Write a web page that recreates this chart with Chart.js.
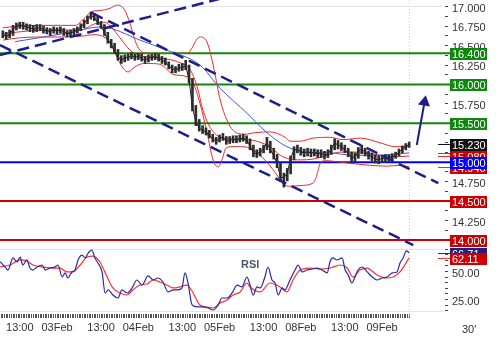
<!DOCTYPE html>
<html>
<head>
<meta charset="utf-8">
<script src="https://cdn.jsdelivr.net/npm/chart.js@4.4.0/dist/chart.umd.min.js"></script>
<style>
  html, body { margin: 0; padding: 0; background: #fff; }
</style>
</head>
<body>
<canvas id="fxChart" width="500" height="339"></canvas>
<script>
// time axis = trading hours counted from 02Feb 00:00 (weekend removed), one bar per hour
const firstBarHour = 8;
const lastBarHour = 128;
const timeAxisMin = 7.16;
const timeAxisMax = 138.0;
const levelEndHour = 140.1;

const timeTickHours = [13, 24, 37, 48, 61, 72, 85, 96, 109, 120];
const timeTickLabels = ['13:00', '03Feb', '13:00', '04Feb', '13:00', '05Feb', '13:00', '08Feb', '13:00', '09Feb'];

const priceMin = 13.884, priceMax = 17.086;
const rsiMin = 14.7, rsiMax = 70.1;

const closes = [
  16.64, 16.62, 16.64, 16.71, 16.75, 16.77, 16.75, 16.74, 16.73, 16.71,
  16.72, 16.73, 16.70, 16.69, 16.68, 16.70, 16.69, 16.70, 16.68, 16.65,
  16.66, 16.68, 16.70, 16.73, 16.79, 16.84, 16.89, 16.86, 16.80, 16.76,
  16.66, 16.57, 16.52, 16.44, 16.35, 16.31, 16.34, 16.35, 16.37, 16.35,
  16.36, 16.34, 16.31, 16.34, 16.35, 16.36, 16.34, 16.31, 16.29, 16.24,
  16.20, 16.19, 16.21, 16.22, 16.24, 16.06, 15.70, 15.52, 15.44, 15.41,
  15.39, 15.35, 15.30, 15.27, 15.31, 15.32, 15.27, 15.28, 15.29, 15.29,
  15.30, 15.31, 15.29, 15.21, 15.12, 15.11, 15.13, 15.17, 15.25, 15.16,
  15.09, 14.98, 14.81, 14.80, 14.86, 15.05, 15.16, 15.17, 15.13, 15.12,
  15.13, 15.12, 15.12, 15.11, 15.11, 15.09, 15.11, 15.17, 15.25, 15.22,
  15.20, 15.16, 15.12, 15.05, 15.07, 15.14, 15.17, 15.13, 15.09, 15.07,
  15.04, 15.03, 15.05, 15.05, 15.06, 15.07, 15.09, 15.13, 15.17, 15.20,
  15.23
];
const highs = [
  16.69, 16.67, 16.70, 16.76, 16.79, 16.80, 16.80, 16.78, 16.77, 16.76,
  16.77, 16.77, 16.75, 16.73, 16.72, 16.74, 16.73, 16.74, 16.72, 16.69,
  16.70, 16.72, 16.74, 16.78, 16.83, 16.88, 16.93, 16.91, 16.87, 16.81,
  16.77, 16.67, 16.58, 16.53, 16.45, 16.37, 16.38, 16.39, 16.41, 16.39,
  16.40, 16.39, 16.36, 16.38, 16.39, 16.40, 16.39, 16.36, 16.34, 16.29,
  16.25, 16.23, 16.26, 16.27, 16.31, 16.25, 16.08, 15.73, 15.55, 15.47,
  15.44, 15.41, 15.36, 15.32, 15.35, 15.37, 15.33, 15.33, 15.34, 15.34,
  15.35, 15.36, 15.34, 15.30, 15.22, 15.16, 15.18, 15.22, 15.32, 15.27,
  15.18, 15.10, 14.99, 14.86, 14.92, 15.08, 15.20, 15.22, 15.19, 15.17,
  15.18, 15.17, 15.17, 15.16, 15.16, 15.14, 15.16, 15.22, 15.30, 15.28,
  15.25, 15.22, 15.18, 15.13, 15.12, 15.19, 15.22, 15.18, 15.14, 15.12,
  15.09, 15.08, 15.09, 15.10, 15.10, 15.11, 15.13, 15.17, 15.21, 15.24,
  15.26
];
const lows = [
  16.60, 16.58, 16.60, 16.63, 16.70, 16.72, 16.71, 16.70, 16.68, 16.67,
  16.68, 16.69, 16.66, 16.65, 16.63, 16.66, 16.65, 16.66, 16.63, 16.61,
  16.62, 16.64, 16.66, 16.69, 16.73, 16.78, 16.84, 16.82, 16.77, 16.72,
  16.63, 16.53, 16.47, 16.40, 16.31, 16.27, 16.29, 16.31, 16.33, 16.31,
  16.32, 16.30, 16.27, 16.29, 16.31, 16.32, 16.30, 16.27, 16.25, 16.20,
  16.15, 16.15, 16.17, 16.18, 16.19, 16.02, 15.66, 15.47, 15.40, 15.37,
  15.35, 15.31, 15.26, 15.23, 15.26, 15.28, 15.23, 15.24, 15.25, 15.25,
  15.26, 15.27, 15.24, 15.16, 15.07, 15.06, 15.08, 15.12, 15.16, 15.12,
  15.04, 14.93, 14.75, 14.68, 14.76, 14.85, 15.03, 15.12, 15.09, 15.07,
  15.08, 15.07, 15.08, 15.06, 15.06, 15.04, 15.06, 15.10, 15.16, 15.17,
  15.15, 15.12, 15.07, 14.99, 15.01, 15.05, 15.11, 15.08, 15.04, 15.02,
  14.99, 14.98, 15.00, 15.00, 15.01, 15.03, 15.05, 15.08, 15.12, 15.16,
  15.19
];

// bollinger bands and moving average, [hour, price]
const bbUpper = [[8,16.73],[13,16.75],[19,16.76],[25,16.76],[29.3,16.76],[32.3,16.86],[34.3,16.94],[36.7,16.95],[39.7,16.98],[41.7,17.02],[43.8,16.97],[45.6,16.78],[47,16.57],[48.5,16.44],[50.6,16.40],[54.4,16.40],[58.9,16.40],[62.4,16.40],[63.9,16.47],[65.1,16.57],[66.2,16.61],[68,16.57],[69.2,16.42],[70.4,16.19],[72.2,15.80],[74.2,15.54],[76,15.41],[79.5,15.36],[82.5,15.38],[86.9,15.39],[91.4,15.32],[92.8,15.27],[95.8,15.27],[99.6,15.31],[104.6,15.32],[108.5,15.29],[113.5,15.31],[119.4,15.25],[123.8,15.20],[128,15.20]];
const bbMiddle = [[8,16.65],[16,16.69],[24.9,16.70],[30.8,16.70],[35.2,16.78],[38.2,16.80],[40.2,16.73],[42.6,16.60],[45.6,16.44],[48.5,16.37],[54.4,16.34],[60.3,16.28],[63.3,16.19],[65.4,15.97],[67.1,15.67],[69.2,15.45],[73,15.31],[80.1,15.29],[86.9,15.20],[89.9,15.09],[92.8,15.04],[95.8,15.03],[99.6,15.04],[103.2,15.08],[107.6,15.13],[113.5,15.13],[119.4,15.09],[123.8,15.07],[128,15.08]];
const bbLower = [[8,16.57],[13,16.60],[19,16.61],[24.9,16.61],[30.8,16.62],[35.2,16.64],[38.2,16.60],[39.7,16.53],[41.7,16.35],[43.5,16.21],[45,16.16],[46.5,16.21],[48.5,16.26],[50.6,16.27],[54.4,16.26],[58.3,16.13],[62.4,16.10],[64.2,16.02],[66.2,15.76],[68.3,15.38],[70.1,15.03],[71.6,14.94],[72.7,15.03],[73.9,15.18],[75.7,15.20],[78.1,15.20],[81,15.18],[84.9,15.05],[88.4,14.87],[90.8,14.72],[92.8,14.69],[95.8,14.70],[99.6,14.73],[100.5,14.80],[101.7,14.98],[103.2,15.02],[109.7,14.99],[116.5,14.96],[121.5,14.95],[125.3,14.96],[128,14.94]];
const maBlue = [[11.6,16.55],[20,16.61],[28,16.67],[36.7,16.74],[40,16.72],[48.5,16.57],[56.5,16.44],[66.2,16.25],[72.2,15.95],[80.1,15.63],[86,15.38],[91.9,15.20],[97.9,15.13],[104.6,15.12],[111.4,15.09],[119.4,15.09],[128,15.12]];

// trend lines and arrow, [hour, price]
const trendUp = [[7.16,16.379],[75,17.134]];
const channelTop = [[34.3,16.919],[136.6,14.73]];
const channelBottom = [[7.16,16.507],[129.2,13.935]];
const arrowPath = [[130.26,15.221],[132.55,15.774]];

const greenLevels = [16.4, 16.0, 15.5];
const blueLevels = [15.0];
const redLevels = [14.5, 14.0];

const lastPrice = 15.23, lastMa = 15.12, lastBbMid = 15.08, lastBbLow = 14.94;
const lastRsi = 66.71, lastSignal = 62.11;

// RSI panel, [hour, value]
const rsiLine = [[7.2,58.8],[8.6,54.3],[9.5,51.3],[11,62.1],[12.2,58.5],[13.1,62.9],[13.9,55.8],[15.1,60.3],[16,53.1],[16.9,51.3],[18.1,54],[19.6,55.8],[20.5,51.3],[21.9,53.1],[23.4,54],[24.3,55.8],[25.5,45.1],[26.4,48.7],[27.2,44.2],[28.4,49.6],[29.3,51.3],[30.2,60.3],[31.4,64.7],[32.3,62.1],[33.2,66.5],[34.3,69.2],[35.2,62.1],[36.1,57.6],[37.3,49.6],[38.2,30.8],[39.1,33.5],[40.5,29],[42,26.3],[43.2,33.5],[44.7,30.8],[46.2,35.3],[47.6,42.4],[49.1,37.9],[50.9,46],[52.4,42.4],[53.8,44.2],[55.3,40.6],[56.8,31.7],[58.3,33.5],[59.7,33.5],[60.9,35.3],[61.8,48.7],[62.7,39.7],[63.9,20.1],[65.4,18.3],[67.1,18.3],[68.6,17.4],[70.1,15.6],[71.6,20.1],[72.7,26.3],[74.2,26.3],[75.7,30.8],[77.2,37.9],[78.6,36.2],[80.1,45.1],[81,37.9],[81.9,29],[83.1,36.2],[84,35.3],[85.4,45.1],[86.3,54],[87.5,42.4],[88.4,39.7],[89.3,29],[90.5,35.3],[91.3,33.5],[92.8,42.4],[94.3,51.3],[95.2,55.8],[96.4,49.6],[97.8,51.3],[99.3,52.2],[100.8,53.1],[102.3,51.3],[103.8,48.7],[104.6,58.5],[105.5,62.1],[106.7,60.3],[108.2,62.1],[109.1,51.3],[110,46.9],[111.1,39.7],[112,45.1],[112.9,51.3],[114.1,54],[115.6,49.6],[117.1,45.1],[118.5,42.4],[120,44.2],[121.5,45.1],[123,48.7],[124.4,49.6],[125.3,57.6],[126.2,62.1],[127.2,68.5],[128,66.71]];
const rsiSignal = [[7.2,54],[10.1,55.8],[13.1,60.3],[15.1,59.4],[16.9,55.8],[19.9,54],[22.8,53.1],[24.9,53.1],[26.9,49.6],[28.7,49.6],[30.8,55.8],[32.9,62.9],[34.6,63.8],[36.7,58.5],[38.8,45.1],[40.5,35.3],[42.6,30.8],[44.7,29],[46.4,33.5],[48.5,37.9],[50.6,38.8],[52.4,42.4],[54.4,40.6],[56.5,37.9],[58.3,35.3],[60.3,36.2],[62.4,37.9],[64.2,30.8],[66.2,20.1],[68.3,18.3],[70.1,17.4],[72.2,21.9],[74.2,24.5],[76,29],[78.1,31.7],[80.1,39.7],[81,36.2],[84,31.7],[86.9,39.7],[89.9,36.2],[91.9,31.7],[93.7,42.4],[95.8,51.3],[98.7,53.1],[101.7,52.2],[104.6,53.1],[107.6,55.8],[109.7,53.1],[111.4,45.1],[113.5,51.3],[115.6,53.1],[118.5,46.9],[121.5,44.2],[123.3,45.1],[125.3,49.6],[128,62.11]];

const FONT = '"Liberation Sans", Arial, sans-serif';
Chart.defaults.font.family = FONT;
Chart.defaults.font.size = 11;
Chart.defaults.color = '#333';

const NAVY = '#1d1d8c';
const GREEN = '#0d880d';
const RED = '#cc0000';
const BAND_RED = '#f02828';

const toPoints = pairs => pairs.map(p => ({ x: p[0], y: p[1] }));
const barHours = closes.map((_, i) => firstBarHour + i);

// keep the plot area flush with the canvas edges
function fixBox(s, size) {
    s.paddingTop = 0;
    s.paddingBottom = 0;
    s.paddingLeft = 0;
    s.paddingRight = 0;
    if (s.isHorizontal()) s.height = size;
    else s.width = size;
}

function levelSet(value, color) {
    return {
        type: 'line',
        data: [{ x: timeAxisMin, y: value }, { x: levelEndHour, y: value }],
        borderColor: color,
        borderWidth: 2,
        clip: false,
        order: 6
    };
}

function curveSet(pairs, color, axis, order, width) {
    return {
        type: 'line',
        data: toPoints(pairs),
        borderColor: color,
        borderWidth: width || 1,
        cubicInterpolationMode: 'monotone',
        yAxisID: axis,
        order: order
    };
}

function dashedSet(pairs) {
    return {
        type: 'line',
        data: toPoints(pairs),
        borderColor: NAVY,
        borderWidth: 2.5,
        borderDash: [12, 6],
        order: 1
    };
}

const datasets = [];
greenLevels.forEach(v => datasets.push(levelSet(v, GREEN)));
blueLevels.forEach(v => datasets.push(levelSet(v, '#0000ff')));
redLevels.forEach(v => datasets.push(levelSet(v, RED)));

datasets.push(curveSet(bbUpper, BAND_RED, 'y', 5));
datasets.push(curveSet(bbMiddle, BAND_RED, 'y', 5));
datasets.push(curveSet(bbLower, BAND_RED, 'y', 5));
datasets.push(curveSet(maBlue, '#4058f0', 'y', 4));

// high-low bars
datasets.push({
    type: 'bar',
    data: barHours.map((h, i) => ({ x: h, y: [lows[i], highs[i]] })),
    backgroundColor: '#2e2e2e',
    barThickness: 2,
    grouped: false,
    order: 3
});
datasets.push({
    type: 'line',
    data: barHours.map((h, i) => ({ x: h, y: closes[i] })),
    borderColor: '#222',
    borderWidth: 1,
    order: 2
});

datasets.push(dashedSet(trendUp));
datasets.push(dashedSet(channelTop));
datasets.push(dashedSet(channelBottom));

// breakout arrow
datasets.push({
    type: 'line',
    data: toPoints(arrowPath),
    borderColor: NAVY,
    borderWidth: 2,
    pointRadius: [0, 7],
    pointStyle: 'triangle',
    pointRotation: 10,
    pointBackgroundColor: NAVY,
    pointBorderWidth: 0,
    clip: false,
    order: 0
});

datasets.push(curveSet(rsiSignal, '#ff3030', 'yRsi', 2, 1.2));
datasets.push(curveSet(rsiLine, '#2a2aa6', 'yRsi', 1, 1.2));

// value tags at the right edge (drawn in order, later ones on top)
const tags = [
    { axis: 'y', value: lastBbLow, bg: RED, digits: 3 },
    { axis: 'y', value: lastBbMid, bg: RED, digits: 3 }
];
greenLevels.forEach(v => tags.push({ axis: 'y', value: v, bg: GREEN, digits: 3 }));
tags.push({ axis: 'y', value: lastPrice, bg: '#111', digits: 3 });
blueLevels.forEach(v => tags.push({ axis: 'y', value: v, bg: '#0000ff', digits: 3 }));
redLevels.forEach(v => tags.push({ axis: 'y', value: v, bg: RED, digits: 3 }));
tags.push({ axis: 'yRsi', value: lastRsi, bg: '#20207e', digits: 2 });
tags.push({ axis: 'yRsi', value: lastSignal, bg: RED, digits: 2 });

const markers = [
    { axis: 'y', value: lastPrice, color: '#111' },
    { axis: 'y', value: lastMa, color: '#4058f0' },
    { axis: 'y', value: lastBbMid, color: BAND_RED },
    { axis: 'y', value: lastBbLow, color: BAND_RED },
    { axis: 'yRsi', value: lastRsi, color: '#2a2aa6' },
    { axis: 'yRsi', value: lastSignal, color: '#ff3030' }
];

const tagPlugin = {
    id: 'tags',
    beforeDatasetsDraw(chart) {
        const { ctx, chartArea, scales } = chart;
        const x = Math.round(scales.x.getPixelForValue(lastBarHour)) + 0.5;
        ctx.save();
        ctx.strokeStyle = '#cbd4e3';
        ctx.lineWidth = 1;
        ctx.setLineDash([1, 2]);
        ctx.beginPath();
        ctx.moveTo(x, chartArea.top);
        ctx.lineTo(x, chartArea.bottom + 7);
        ctx.stroke();
        ctx.restore();
    },
    afterDraw(chart) {
        const { ctx, chartArea, scales } = chart;
        const edge = chartArea.right;
        ctx.save();
        markers.forEach(m => {
            const y = Math.round(scales[m.axis].getPixelForValue(m.value)) + 0.5;
            ctx.strokeStyle = m.color;
            ctx.lineWidth = 1;
            ctx.beginPath();
            ctx.moveTo(edge - 5, y);
            ctx.lineTo(edge + 7, y);
            ctx.stroke();
        });
        ctx.font = '11px ' + FONT;
        ctx.textBaseline = 'middle';
        tags.forEach(t => {
            const y = Math.round(scales[t.axis].getPixelForValue(t.value));
            ctx.fillStyle = t.bg;
            ctx.fillRect(edge + 7, y - 5, 37, 12);
            ctx.fillStyle = '#fff';
            ctx.fillText(t.value.toFixed(t.digits), edge + 9, y + 1.5);
        });
        ctx.fillStyle = '#4e5563';
        ctx.font = 'bold 11px ' + FONT;
        ctx.fillText('RSI', chartArea.left + 241, scales.yRsi.top + 16);
        ctx.fillStyle = '#333';
        ctx.font = '11px ' + FONT;
        ctx.fillText("30'", edge + 19, scales.x.top + 19);
        ctx.restore();
    }
};

const faint = '#dfe5ef';
const clear = 'rgba(0,0,0,0)';

new Chart(document.getElementById('fxChart').getContext('2d'), {
    type: 'line',
    data: { datasets: datasets },
    options: {
        responsive: false,
        animation: false,
        devicePixelRatio: 1,
        layout: { padding: 0, autoPadding: false },
        elements: { point: { radius: 0 }, line: { tension: 0 } },
        plugins: {
            legend: { display: false },
            tooltip: { enabled: false }
        },
        scales: {
            x: {
                type: 'linear',
                min: timeAxisMin,
                max: timeAxisMax,
                offset: false,
                border: { display: false },
                grid: {
                    offset: false,
                    drawOnChartArea: false,
                    tickLength: 7,
                    tickColor: '#555',
                    tickBorderDash: [0, 3, 4]
                },
                ticks: {
                    autoSkip: false,
                    maxRotation: 0,
                    minRotation: 0,
                    padding: 3,
                    color: '#333',
                    callback: v => {
                        const i = timeTickHours.indexOf(v);
                        return i < 0 ? '' : timeTickLabels[i];
                    }
                },
                afterBuildTicks: s => {
                    const t = [];
                    for (let h = 7.5; h <= lastBarHour; h += 0.5) t.push({ value: h });
                    s.ticks = t;
                },
                afterFit: s => fixBox(s, 28)
            },
            y: {
                type: 'linear',
                axis: 'y',
                position: 'right',
                stack: 'panes',
                stackWeight: 249,
                min: priceMin,
                max: priceMax,
                beginAtZero: false,
                border: { display: false },
                grid: {
                    color: c => (c.tick && c.tick.value === 17 ? faint : clear),
                    tickLength: 5,
                    tickColor: '#444',
                    tickBorderDash: [0, 2, 3]
                },
                ticks: {
                    autoSkip: false,
                    padding: 4,
                    labelOffset: 2,
                    color: '#333',
                    callback: v => (v % 0.25 === 0 ? v.toFixed(3) : '')
                },
                afterBuildTicks: s => {
                    const t = [];
                    for (let v = 14; v <= 17; v += 0.125) t.push({ value: v });
                    s.ticks = t;
                },
                afterFit: s => fixBox(s, 57)
            },
            yRsi: {
                type: 'linear',
                axis: 'y',
                position: 'right',
                stack: 'panes',
                stackWeight: 62,
                min: rsiMin,
                max: rsiMax,
                beginAtZero: false,
                border: { display: false },
                grid: {
                    color: c => (c.tick && (c.tick.value === rsiMin || c.tick.value === rsiMax) ? faint : clear),
                    tickLength: 5,
                    tickColor: c => (c.tick && (c.tick.value === rsiMin || c.tick.value === rsiMax) ? clear : '#444'),
                    tickBorderDash: [0, 2, 3]
                },
                ticks: {
                    autoSkip: false,
                    padding: 4,
                    labelOffset: 2,
                    color: '#333',
                    callback: v => (v === 25 || v === 50 ? v.toFixed(2) : '')
                },
                afterBuildTicks: s => {
                    const t = [{ value: rsiMin }];
                    for (let v = 15; v <= 70; v += 5) t.push({ value: v });
                    t.push({ value: rsiMax });
                    s.ticks = t;
                },
                afterFit: s => fixBox(s, 57)
            }
        }
    },
    plugins: [tagPlugin]
});
</script>
</body>
</html>
